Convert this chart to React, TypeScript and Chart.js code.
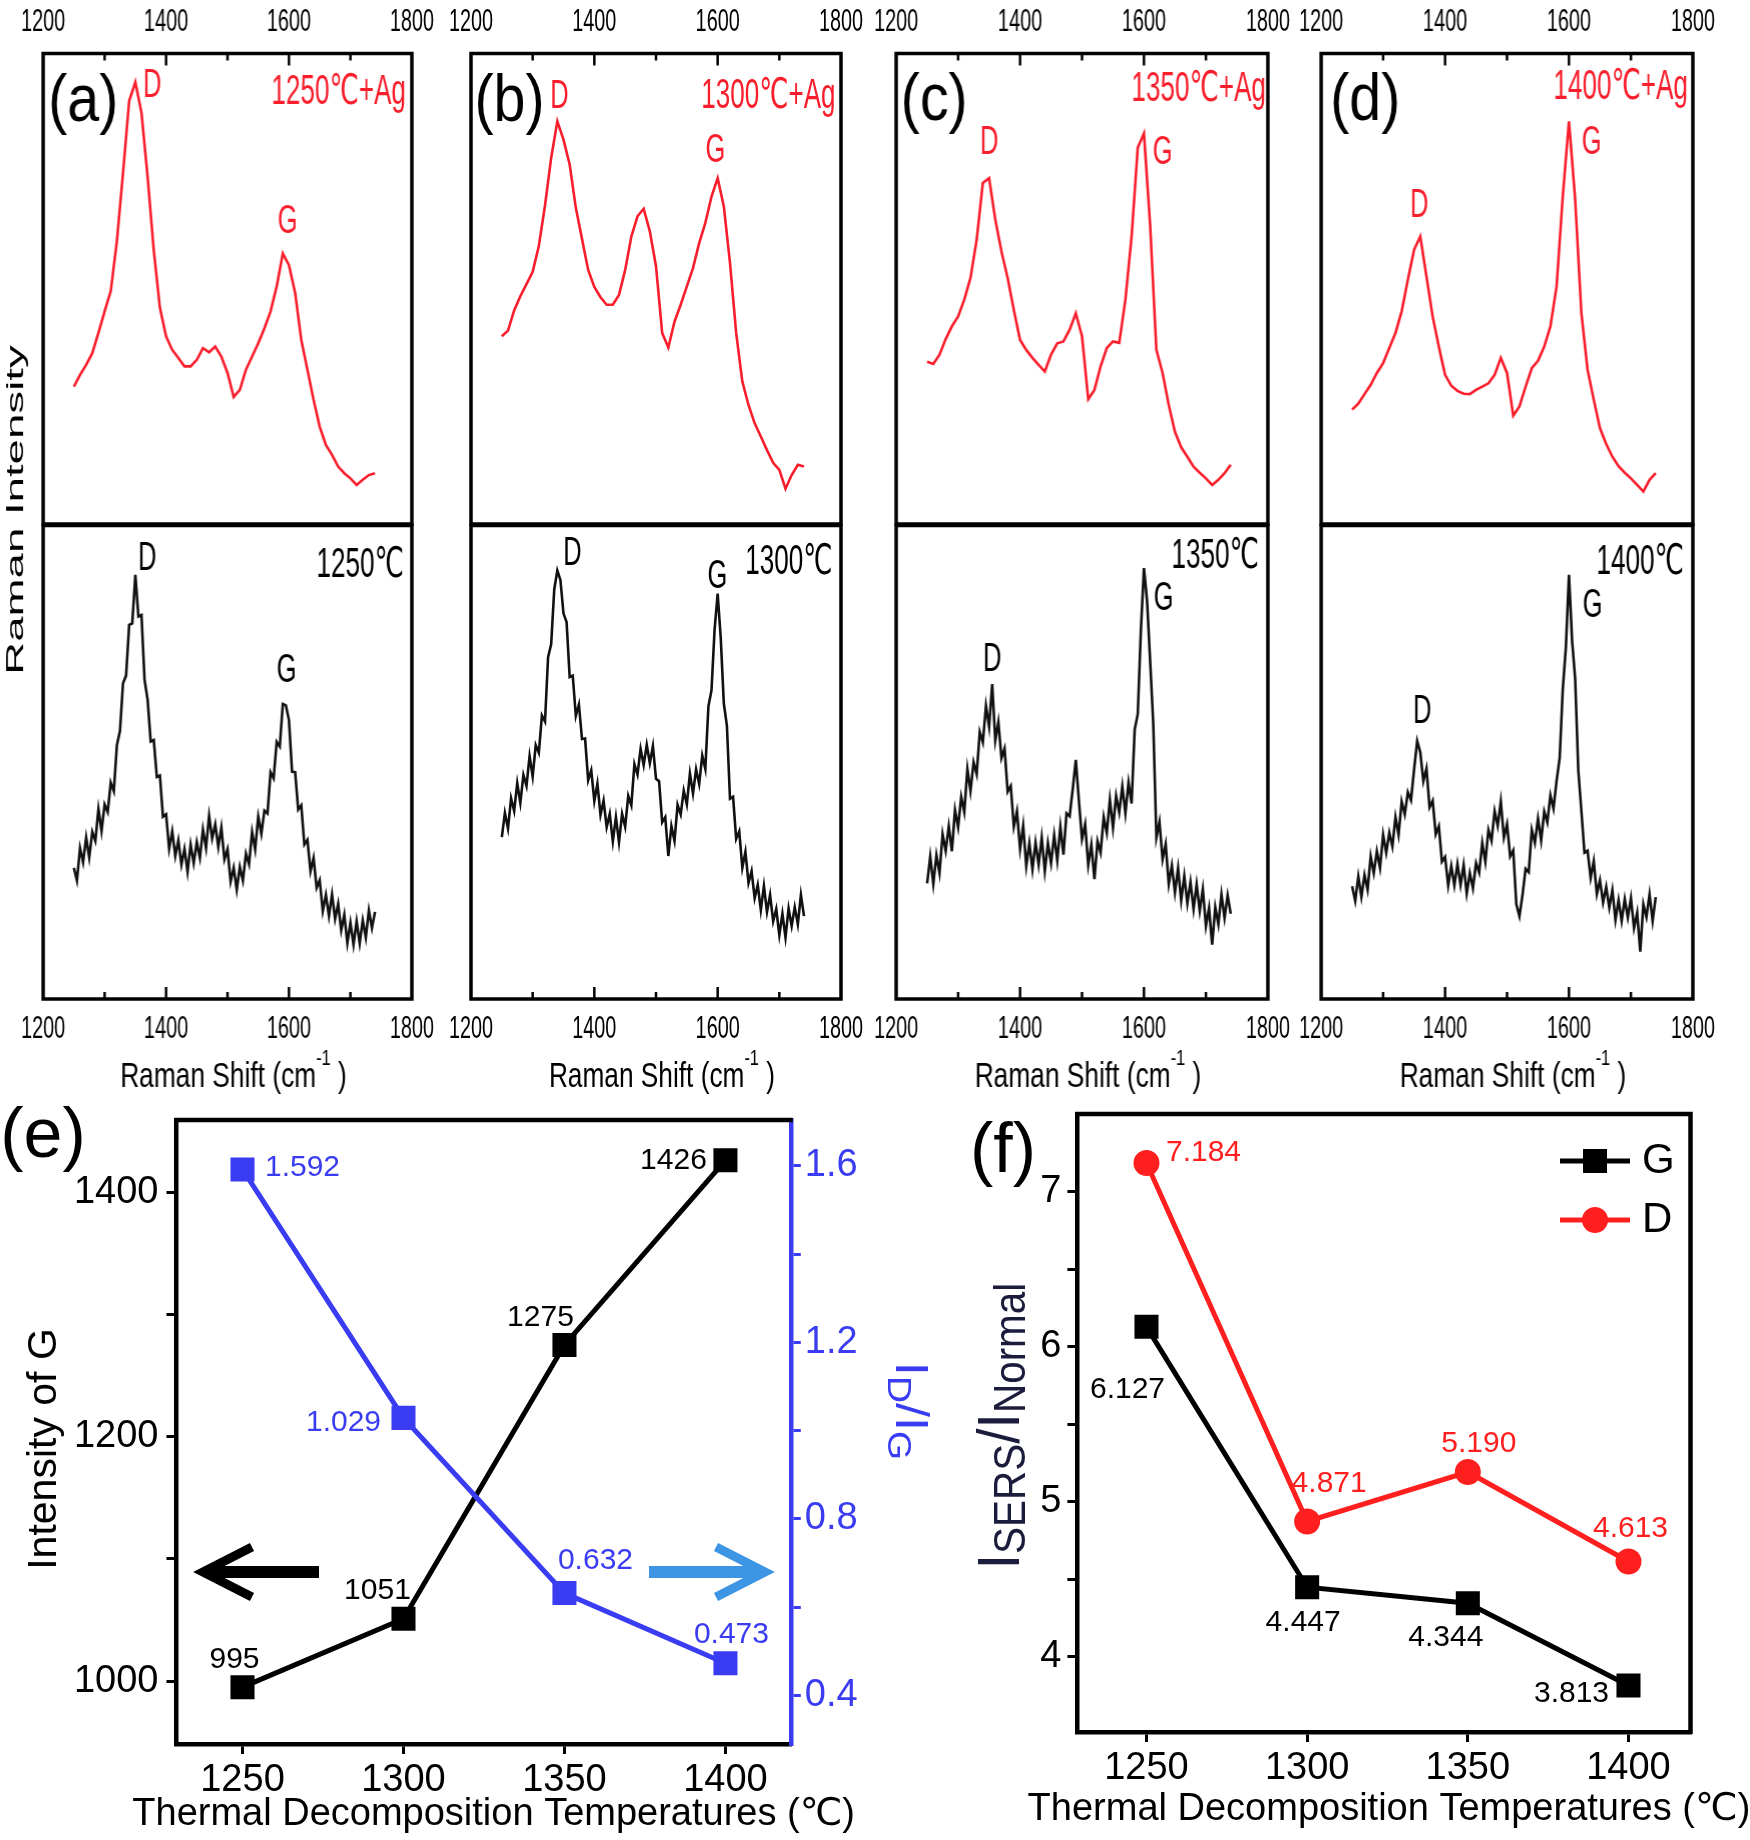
import React, { useEffect, useRef } from "react";
import { Chart, registerables } from "chart.js";
Chart.register(...registerables);

// ================= DATA =================
const RED_SHIFT = [1250,1260,1270,1280,1290,1300,1310,1320,1330,1340,1350,1360,1370,1380,1390,1400,1410,1420,1430,1440,1450,1460,1470,1480,1490,1500,1510,1520,1530,1540,1550,1560,1570,1580,1590,1600,1610,1620,1630,1640,1650,1660,1670,1680,1690,1700,1710,1720,1730,1740];
const BLACK_SHIFT = [1250,1255,1260,1265,1270,1275,1280,1285,1290,1295,1300,1305,1310,1315,1320,1325,1330,1335,1340,1345,1350,1355,1360,1365,1370,1375,1380,1385,1390,1395,1400,1405,1410,1415,1420,1425,1430,1435,1440,1445,1450,1455,1460,1465,1470,1475,1480,1485,1490,1495,1500,1505,1510,1515,1520,1525,1530,1535,1540,1545,1550,1555,1560,1565,1570,1575,1580,1585,1590,1595,1600,1605,1610,1615,1620,1625,1630,1635,1640,1645,1650,1655,1660,1665,1670,1675,1680,1685,1690,1695,1700,1705,1710,1715,1720,1725,1730,1735,1740];

// SERS (+Ag) spectra, relative intensity (0-100 of sub-panel)
const RED_A = [29.2,31.7,33.8,36.3,40.6,45.2,49.5,60.1,74.6,89.9,93.9,87.4,73.8,58.2,46.0,39.9,37.0,35.3,33.5,33.5,34.9,37.4,36.5,37.7,35.6,32.1,27.0,28.5,32.8,35.6,38.4,41.6,45.2,50.5,57.5,55.0,49.1,39.1,32.8,26.4,20.7,16.8,14.7,12.2,10.8,9.7,8.3,9.4,10.4,10.8];
const RED_B = [39.9,41.1,45.4,48.4,51.0,53.6,59.1,67.7,77.8,85.6,81.7,76.4,67.2,60.6,54.0,50.4,48.2,46.6,46.6,48.7,54.0,61.1,65.4,67.0,62.2,54.8,40.6,37.5,43.0,46.6,50.5,54.4,59.7,64.0,69.6,73.5,67.5,55.5,40.6,30.3,25.3,21.4,18.6,15.7,13.0,11.5,7.5,10.4,12.6,12.2];
const RED_C = [34.5,34.0,36.0,39.3,42.0,44.1,47.7,52.3,60.4,72.5,73.5,64.7,57.9,52.3,45.5,39.1,37.0,35.3,33.8,32.4,36.0,38.4,38.8,41.3,44.8,39.9,26.5,28.5,33.5,37.4,38.8,38.5,47.7,61.1,80.0,83.0,63.3,37.0,32.1,25.3,19.6,16.3,14.3,12.2,10.9,9.7,8.3,9.4,10.8,12.6];
const RED_D = [24.3,25.6,27.6,29.6,32.1,34.2,37.4,40.6,45.2,51.9,58.3,61.1,52.6,44.1,37.7,31.7,29.4,28.3,27.7,27.6,28.5,29.2,29.9,31.7,35.3,32.1,23.0,25.0,29.2,33.1,34.7,37.7,42.0,50.5,69.6,85.6,68.9,44.8,32.8,26.4,20.4,17.0,14.3,12.3,10.9,9.7,8.3,6.9,9.4,10.8];

// Normal spectra (noisy)
const BLACK_A = [27.7,25.0,31.9,28.9,34.1,29.9,35.3,33.4,40.1,35.5,41.1,39.5,45.7,43.9,53.6,56.6,66.7,68.3,79.0,79.3,89.6,80.8,81.1,67.4,63.2,54.4,54.7,46.9,47.2,38.5,39.0,31.7,35.4,30.2,33.5,28.4,31.7,26.9,32.6,28.7,33.1,29.8,35.8,31.9,38.7,33.9,36.9,32.1,36.2,29.5,31.6,24.8,27.7,23.1,27.9,25.0,30.7,28.5,35.3,31.6,38.5,34.9,39.8,39.2,47.9,46.6,54.3,53.3,62.3,62.0,58.9,48.0,47.9,40.0,40.9,32.6,33.6,27.0,29.8,23.5,25.1,18.6,22.0,17.5,22.1,16.9,20.1,14.5,17.8,11.8,16.1,11.5,16.4,11.8,16.6,13.0,18.7,15.0,18.4];
const BLACK_B = [34.2,39.3,36.0,42.4,39.7,45.6,41.4,47.3,45.0,51.3,47.0,53.6,52.0,59.9,58.6,72.2,74.9,86.5,90.5,88.5,81.4,79.6,68.0,68.3,59.8,62.2,54.9,55.0,46.2,48.3,41.8,45.5,38.9,41.9,36.3,39.1,33.3,38.4,33.1,39.1,36.4,42.9,40.9,49.6,47.4,52.8,49.4,53.7,49.8,53.4,46.5,46.0,37.3,38.4,30.2,36.5,33.4,41.0,39.0,44.0,41.1,47.6,43.4,48.5,45.4,51.4,48.6,61.8,65.2,78.0,85.6,76.2,62.4,57.7,42.3,42.7,33.8,35.4,27.7,31.1,24.5,27.0,21.3,24.1,18.8,23.9,18.4,22.0,16.4,19.0,13.5,18.0,13.0,19.1,15.4,19.4,15.8,22.0,17.5];
const BLACK_C = [24.4,30.1,24.3,30.4,26.6,34.8,31.3,36.5,31.2,39.9,36.3,42.7,39.5,48.6,43.9,50.0,47.5,56.4,54.2,61.9,57.5,66.5,54.6,58.5,50.9,52.9,43.8,45.0,36.4,39.6,31.7,36.6,28.1,32.9,27.4,33.0,28.4,34.1,27.0,32.9,28.7,34.6,29.3,36.4,30.5,39.2,38.6,44.3,50.5,41.9,33.8,36.9,28.3,32.6,25.3,33.3,30.9,38.4,35.1,42.1,36.2,42.9,39.4,44.9,39.2,45.7,41.3,56.9,60.2,77.8,91.0,84.0,71.2,58.0,34.1,37.4,29.5,32.7,24.3,28.2,22.5,27.6,20.8,26.0,20.2,24.7,19.0,24.2,18.6,23.2,15.4,19.2,11.5,19.4,15.8,22.1,17.1,21.9,18.0];
const BLACK_D = [23.8,20.7,25.9,21.6,26.2,23.1,30.1,26.6,31.2,27.7,34.7,30.9,35.1,32.2,38.4,34.7,41.7,39.0,43.7,42.0,48.5,54.5,52.1,46.0,48.7,40.5,41.9,34.8,36.5,29.0,30.0,24.0,28.1,24.0,28.5,24.1,28.3,22.3,26.6,23.4,28.7,26.7,33.0,29.0,35.7,33.4,39.7,36.6,41.7,34.1,36.9,30.1,31.4,20.0,17.5,22.0,27.5,26.8,35.7,33.0,38.1,33.5,39.6,37.3,43.0,40.2,46.1,50.9,65.4,74.2,89.6,75.7,67.5,48.3,39.7,30.9,31.3,25.6,29.1,22.2,25.1,20.4,23.7,19.3,23.0,16.7,20.9,16.5,21.1,17.2,21.3,15.0,18.2,10.0,20.0,17.3,22.1,16.5,21.5];

const SPEC_X_LABELS = [1200, 1400, 1600, 1800];
const SPEC_X_TICKS = [1300, 1400, 1500, 1600, 1700];

const TEMPS = [1250, 1300, 1350, 1400];
const INTENSITY_G = [995, 1051, 1275, 1426];
const RATIO_DG = [1.592, 1.029, 0.632, 0.473];
const ENH_G = [6.127, 4.447, 4.344, 3.813];
const ENH_D = [7.184, 4.871, 5.19, 4.613];
const INTENSITY_TICKS = [1000, 1100, 1200, 1300, 1400];
const INTENSITY_LABELS = [1000, 1200, 1400];
const RATIO_TICKS = [0.4, 0.6, 0.8, 1.0, 1.2, 1.4, 1.6];
const RATIO_LABELS = [0.4, 0.8, 1.2, 1.6];
const ENH_TICKS = [4, 4.5, 5, 5.5, 6, 6.5, 7];
const ENH_LABELS = [4, 5, 6, 7];

// ================= STYLE / LAYOUT =================
const SANS = "'Liberation Sans', Arial, 'DejaVu Sans', 'Noto Sans CJK SC', sans-serif";
const RED = "#f81e2c";
const INK = "#111111";
const BLUE = "#3a3cf2";
const ARROW_BLUE = "#3d95e4";
const F_RED = "#ff1f1f";
const NAVY = "#1b1b3c";

const PANEL_BOX = [
  { left: 43, right: 411.5 },
  { left: 470.5, right: 840.5 },
  { left: 896, right: 1267.5 },
  { left: 1321, right: 1692.5 },
];
const SUB_TOP = { top: 53.5, bottom: 524 };
const SUB_BOTTOM = { top: 525.5, bottom: 999 };
const SPEC_H = 1100;
const SPEC_MARGIN = 70;

type Note = { text: string; x: number; y: number; kind: "letter" | "peak" | "temp" };
const TOP_NOTES: Note[][] = [
  [ { text: "(a)", x: 83, y: 103, kind: "letter" }, { text: "D", x: 152, y: 86, kind: "peak" }, { text: "1250℃+Ag", x: 405, y: 92.5, kind: "temp" }, { text: "G", x: 287, y: 222, kind: "peak" } ],
  [ { text: "(b)", x: 509, y: 103, kind: "letter" }, { text: "D", x: 559, y: 97, kind: "peak" }, { text: "1300℃+Ag", x: 835, y: 96, kind: "temp" }, { text: "G", x: 715, y: 151, kind: "peak" } ],
  [ { text: "(c)", x: 934, y: 102, kind: "letter" }, { text: "D", x: 989, y: 143, kind: "peak" }, { text: "1350℃+Ag", x: 1265, y: 89, kind: "temp" }, { text: "G", x: 1162, y: 153, kind: "peak" } ],
  [ { text: "(d)", x: 1365, y: 102, kind: "letter" }, { text: "D", x: 1419, y: 206, kind: "peak" }, { text: "1400℃+Ag", x: 1687, y: 87, kind: "temp" }, { text: "G", x: 1591, y: 143, kind: "peak" } ],
];
const BOTTOM_NOTES: Note[][] = [
  [ { text: "D", x: 147, y: 559, kind: "peak" }, { text: "1250℃", x: 403, y: 565, kind: "temp" }, { text: "G", x: 286, y: 671, kind: "peak" } ],
  [ { text: "D", x: 572, y: 554, kind: "peak" }, { text: "1300℃", x: 832, y: 562, kind: "temp" }, { text: "G", x: 717, y: 577, kind: "peak" } ],
  [ { text: "D", x: 992, y: 660, kind: "peak" }, { text: "1350℃", x: 1258, y: 556, kind: "temp" }, { text: "G", x: 1163, y: 599, kind: "peak" } ],
  [ { text: "D", x: 1422, y: 712, kind: "peak" }, { text: "1400℃", x: 1683, y: 562, kind: "temp" }, { text: "G", x: 1592, y: 606, kind: "peak" } ],
];
const NOTE_STYLE: any = {
  letter: { size: 66, sx: 0.87, align: "center" },
  peak: { size: 41, sx: 0.62, align: "center" },
  temp: { size: 42, sx: 0.62, align: "right" },
};

// label offsets (px) from data points
const E_G_LABEL_OFF = [[-8, -27], [-26, -28], [-24, -27], [-52, 0]];
const E_R_LABEL_OFF = [[60, -2], [-60, 5], [31, -32], [6, -29]];
const F_G_LABEL_OFF = [[-19, 63], [-4, 36], [-22, 35], [-57, 8]];
const F_D_LABEL_OFF = [[57, -10], [22, -38], [11, -28], [2, -33]];

// ================= HELPERS =================
function drawText(ctx: any, text: string, x: number, y: number, o: any) {
  ctx.save();
  ctx.translate(x, y);
  if (o.rotate) ctx.rotate(o.rotate);
  ctx.scale(o.sx ?? 1, o.sy ?? 1);
  ctx.font = `${o.weight ?? "normal"} ${o.size}px ${SANS}`;
  ctx.fillStyle = o.color ?? "#000";
  ctx.textAlign = o.align ?? "center";
  ctx.textBaseline = o.baseline ?? "middle";
  ctx.fillText(text, 0, 0);
  ctx.restore();
}

function drawRich(ctx: any, segs: { t: string; size: number; dy?: number }[], x: number, y: number, o: any) {
  ctx.save();
  ctx.translate(x, y);
  if (o.rotate) ctx.rotate(o.rotate);
  ctx.scale(o.sx ?? 1, o.sy ?? 1);
  ctx.fillStyle = o.color ?? "#000";
  ctx.textBaseline = "alphabetic";
  ctx.textAlign = "left";
  let total = 0;
  const widths = segs.map((s) => {
    ctx.font = `${s.size}px ${SANS}`;
    const w = ctx.measureText(s.t).width;
    total += w;
    return w;
  });
  let cx = o.align === "left" ? 0 : o.align === "right" ? -total : -total / 2;
  segs.forEach((s, i) => {
    ctx.font = `${s.size}px ${SANS}`;
    ctx.fillText(s.t, cx, s.dy ?? 0);
    cx += widths[i];
  });
  ctx.restore();
}

function ChartBox({ left, top, width, height, make }: any) {
  const ref = useRef<HTMLCanvasElement>(null);
  useEffect(() => {
    const chart = new Chart(ref.current as HTMLCanvasElement, make());
    return () => chart.destroy();
  }, []);
  return (
    <canvas
      ref={ref}
      width={width}
      height={height}
      style={{ position: "absolute", left, top, width, height }}
    />
  );
}

const baseOptions = {
  animation: false,
  responsive: false,
  maintainAspectRatio: false,
  devicePixelRatio: 1,
  events: [],
};

// ================= SPECTRA =================
function makeSpectrum(i: number, part: "top" | "bottom") {
  const box = PANEL_BOX[i];
  const sub = part === "top" ? SUB_TOP : SUB_BOTTOM;
  const canvasLeft = box.left - SPEC_MARGIN;
  const xs = part === "top" ? RED_SHIFT : BLACK_SHIFT;
  const ys = part === "top" ? [RED_A, RED_B, RED_C, RED_D][i] : [BLACK_A, BLACK_B, BLACK_C, BLACK_D][i];
  const notes = part === "top" ? TOP_NOTES[i] : BOTTOM_NOTES[i];
  const decor = {
    id: "specDecor",
    afterDraw(chart: any) {
      const { ctx, chartArea: a } = chart;
      const x = chart.scales.x;
      ctx.save();
      ctx.strokeStyle = "#000";
      ctx.lineWidth = 3.5;
      ctx.strokeRect(a.left, a.top, a.right - a.left, a.bottom - a.top);
      ctx.lineWidth = 2.5;
      const y0 = part === "top" ? a.top : a.bottom;
      const dir = part === "top" ? 1 : -1;
      for (const v of SPEC_X_TICKS) {
        const px = x.getPixelForValue(v);
        const len = SPEC_X_LABELS.includes(v) ? 12 : 7;
        ctx.beginPath();
        ctx.moveTo(px, y0);
        ctx.lineTo(px, y0 + dir * len);
        ctx.stroke();
      }
      ctx.restore();
      const labelY = part === "top" ? 22 : 1029;
      for (const v of SPEC_X_LABELS) {
        drawText(ctx, String(v), x.getPixelForValue(v), labelY, { size: 32, sx: 0.62, color: "#000" });
      }
      for (const n of notes) {
        const st = NOTE_STYLE[n.kind];
        const color = n.kind === "letter" ? "#000" : part === "top" ? RED : "#000";
        drawText(ctx, n.text, n.x - canvasLeft, n.y, { size: st.size, sx: st.sx, align: st.align, color });
      }
      if (part === "bottom") {
        const cx = (a.left + a.right) / 2 + 6;
        drawRich(ctx, [
          { t: "Raman Shift (cm", size: 35 },
          { t: "-1", size: 22, dy: -22 },
          { t: " )", size: 35 },
        ], cx, 1087, { sx: 0.75, color: "#000" });
      }
      if (part === "top" && i === 0) {
        drawText(ctx, "Raman Intensity", 16 - canvasLeft, 510, { size: 24, sx: 1.9, rotate: -Math.PI / 2, color: "#000" });
      }
    },
  };
  return {
    type: "line",
    data: {
      datasets: [
        {
          data: xs.map((v, k) => ({ x: v, y: ys[k] })),
          borderColor: part === "top" ? RED : INK,
          borderWidth: part === "top" ? 2.6 : 2.6,
          pointRadius: 0,
          tension: 0,
          fill: false,
        },
      ],
    },
    options: {
      ...baseOptions,
      layout: { padding: { left: SPEC_MARGIN, right: SPEC_MARGIN, top: sub.top, bottom: SPEC_H - sub.bottom } },
      plugins: { legend: { display: false }, tooltip: { enabled: false } },
      scales: {
        x: { type: "linear", min: 1200, max: 1800, display: false },
        y: { type: "linear", min: 0, max: 100, display: false },
      },
    },
    plugins: [decor],
  };
}

// ================= PANEL (e) =================
const E_CANVAS = { left: 0, top: 1080, width: 930, height: 760 };
const F_CANVAS = { left: 880, top: 1080, width: 870, height: 760 };

function axisCommon(color: string) {
  return {
    grid: { display: true, drawOnChartArea: false, drawTicks: true, tickLength: 10, lineWidth: 3, tickWidth: 3, tickColor: color, color },
    border: { display: true, color, width: 4.5 },
  };
}

function makeE() {
  const T = E_CANVAS.top;
  const decor = {
    id: "eDecor",
    afterDraw(chart: any) {
      const { ctx, chartArea: a } = chart;
      ctx.save();
      ctx.strokeStyle = "#000";
      ctx.lineWidth = 4.5;
      ctx.beginPath();
      ctx.moveTo(a.left - 2, a.top);
      ctx.lineTo(a.right + 2, a.top);
      ctx.stroke();
      // arrows
      ctx.lineCap = "butt";
      ctx.lineJoin = "miter";
      ctx.strokeStyle = "#000";
      ctx.lineWidth = 12;
      ctx.beginPath(); ctx.moveTo(210, 1572 - T); ctx.lineTo(319, 1572 - T); ctx.stroke();
      ctx.lineWidth = 9;
      ctx.beginPath(); ctx.moveTo(252, 1547 - T); ctx.lineTo(203, 1572 - T); ctx.lineTo(252, 1597 - T); ctx.stroke();
      ctx.strokeStyle = ARROW_BLUE;
      ctx.lineWidth = 12;
      ctx.beginPath(); ctx.moveTo(649, 1572 - T); ctx.lineTo(758, 1572 - T); ctx.stroke();
      ctx.lineWidth = 9;
      ctx.beginPath(); ctx.moveTo(716, 1547 - T); ctx.lineTo(765, 1572 - T); ctx.lineTo(716, 1597 - T); ctx.stroke();
      ctx.restore();
      // data labels
      const mR = chart.getDatasetMeta(0).data;
      const mG = chart.getDatasetMeta(1).data;
      INTENSITY_G.forEach((v, j) => {
        drawText(ctx, String(v), mG[j].x + E_G_LABEL_OFF[j][0], mG[j].y + E_G_LABEL_OFF[j][1], { size: 30, color: "#000" });
      });
      RATIO_DG.forEach((v, j) => {
        drawText(ctx, v.toFixed(3), mR[j].x + E_R_LABEL_OFF[j][0], mR[j].y + E_R_LABEL_OFF[j][1], { size: 30, color: BLUE });
      });
      drawText(ctx, "(e)", 43, 1138 - T, { size: 70, color: "#000" });
      drawText(ctx, "Intensity of G", 56, 1449 - T, { size: 41, rotate: -Math.PI / 2, baseline: "alphabetic", color: "#000" });
      drawRich(ctx, [
        { t: "I", size: 46 }, { t: "D", size: 34, dy: 8 }, { t: "/", size: 46 }, { t: "I", size: 46 }, { t: "G", size: 34, dy: 8 },
      ], 896, 1411 - T, { rotate: Math.PI / 2, sx: 1.1, color: BLUE });
      drawText(ctx, "Thermal Decomposition Temperatures (℃)", (a.left + a.right) / 2 + 10, 1815 - T, { size: 38, color: "#000" });
    },
  };
  return {
    type: "line",
    data: {
      datasets: [
        {
          data: TEMPS.map((t, j) => ({ x: t, y: RATIO_DG[j] })),
          yAxisID: "y2",
          borderColor: BLUE, backgroundColor: BLUE, pointBackgroundColor: BLUE, pointBorderColor: BLUE,
          borderWidth: 5, pointStyle: "rect", pointRadius: 17, pointBorderWidth: 0, tension: 0,
        },
        {
          data: TEMPS.map((t, j) => ({ x: t, y: INTENSITY_G[j] })),
          yAxisID: "y",
          borderColor: "#000", backgroundColor: "#000", pointBackgroundColor: "#000", pointBorderColor: "#000",
          borderWidth: 5, pointStyle: "rect", pointRadius: 17, pointBorderWidth: 0, tension: 0,
        },
      ],
    },
    options: {
      ...baseOptions,
      layout: { padding: { top: 40, left: 0, right: 0, bottom: 0 } },
      plugins: { legend: { display: false }, tooltip: { enabled: false } },
      scales: {
        x: {
          type: "linear", position: "bottom", min: 1229.5, max: 1420.3,
          afterBuildTicks: (s: any) => { s.ticks = TEMPS.map((v) => ({ value: v })); },
          afterFit: (s: any) => { s.height = 96; },
          ticks: { autoSkip: false, maxRotation: 0, padding: 4, color: "#000", font: { family: SANS, size: 38 }, callback: (v: any) => String(v) },
          ...axisCommon("#000"),
        },
        y: {
          type: "linear", position: "left", min: 948.5, max: 1459,
          afterBuildTicks: (s: any) => { s.ticks = INTENSITY_TICKS.map((v) => ({ value: v })); },
          afterFit: (s: any) => { s.width = 176.5; },
          ticks: { autoSkip: false, padding: 8, color: "#000", font: { family: SANS, size: 38 }, callback: (v: any) => (INTENSITY_LABELS.includes(v) ? String(v) : "") },
          ...axisCommon("#000"),
        },
        y2: {
          type: "linear", position: "right", min: 0.29, max: 1.704,
          afterBuildTicks: (s: any) => { s.ticks = RATIO_TICKS.map((v) => ({ value: v })); },
          afterFit: (s: any) => { s.width = E_CANVAS.width - 790.8; },
          ticks: { autoSkip: false, padding: 4, color: BLUE, font: { family: SANS, size: 38 }, callback: (v: any) => (RATIO_LABELS.some((l) => Math.abs(l - v) < 1e-9) ? Number(v).toFixed(1) : "") },
          ...axisCommon(BLUE),
        },
      },
    },
    plugins: [decor],
  };
}

// ================= PANEL (f) =================
function makeF() {
  const L = F_CANVAS.left;
  const T = F_CANVAS.top;
  const decor = {
    id: "fDecor",
    afterDraw(chart: any) {
      const { ctx, chartArea: a } = chart;
      ctx.save();
      ctx.strokeStyle = "#000";
      ctx.lineWidth = 4.5;
      ctx.beginPath();
      ctx.moveTo(a.left - 2, a.top);
      ctx.lineTo(a.right, a.top);
      ctx.lineTo(a.right, a.bottom + 2);
      ctx.stroke();
      // legend
      const lx0 = 1560 - L, lx1 = 1630 - L, mx = 1595 - L;
      ctx.lineWidth = 5;
      ctx.strokeStyle = "#000";
      ctx.beginPath(); ctx.moveTo(lx0, 1161 - T); ctx.lineTo(lx1, 1161 - T); ctx.stroke();
      ctx.fillStyle = "#000";
      ctx.fillRect(mx - 12, 1161 - T - 12, 24, 24);
      ctx.strokeStyle = F_RED;
      ctx.beginPath(); ctx.moveTo(lx0, 1220 - T); ctx.lineTo(lx1, 1220 - T); ctx.stroke();
      ctx.fillStyle = F_RED;
      ctx.beginPath(); ctx.arc(mx, 1220 - T, 13, 0, Math.PI * 2); ctx.fill();
      ctx.restore();
      drawText(ctx, "G", 1642 - L, 1161 - T, { size: 42, align: "left", color: "#000" });
      drawText(ctx, "D", 1642 - L, 1220 - T, { size: 42, align: "left", color: "#000" });
      // data labels
      const mD = chart.getDatasetMeta(0).data;
      const mG = chart.getDatasetMeta(1).data;
      ENH_G.forEach((v, j) => {
        drawText(ctx, v.toFixed(3), mG[j].x + F_G_LABEL_OFF[j][0], mG[j].y + F_G_LABEL_OFF[j][1], { size: 30, color: "#000" });
      });
      ENH_D.forEach((v, j) => {
        drawText(ctx, v.toFixed(3), mD[j].x + F_D_LABEL_OFF[j][0], mD[j].y + F_D_LABEL_OFF[j][1], { size: 30, color: F_RED });
      });
      drawText(ctx, "(f)", 1003 - L, 1153 - T, { size: 70, color: "#000" });
      drawRich(ctx, [
        { t: "I", size: 60 }, { t: "SERS", size: 44, dy: 6 }, { t: "/", size: 60 }, { t: "I", size: 60 }, { t: "Normal", size: 44, dy: 6 },
      ], 1019 - L, 1426 - T, { rotate: -Math.PI / 2, sx: 0.92, color: NAVY });
      drawText(ctx, "Thermal Decomposition Temperatures (℃)", (a.left + a.right) / 2 + 5, 1810 - T, { size: 38, color: "#000" });
    },
  };
  return {
    type: "line",
    data: {
      datasets: [
        {
          data: TEMPS.map((t, j) => ({ x: t, y: ENH_D[j] })),
          borderColor: F_RED, backgroundColor: F_RED, pointBackgroundColor: F_RED, pointBorderColor: F_RED,
          borderWidth: 5, pointStyle: "circle", pointRadius: 13, pointBorderWidth: 0, tension: 0,
        },
        {
          data: TEMPS.map((t, j) => ({ x: t, y: ENH_G[j] })),
          borderColor: "#000", backgroundColor: "#000", pointBackgroundColor: "#000", pointBorderColor: "#000",
          borderWidth: 5, pointStyle: "rect", pointRadius: 17, pointBorderWidth: 0, tension: 0,
        },
      ],
    },
    options: {
      ...baseOptions,
      layout: { padding: { top: 34, left: 0, right: 59.5, bottom: 0 } },
      plugins: { legend: { display: false }, tooltip: { enabled: false } },
      scales: {
        x: {
          type: "linear", position: "bottom", min: 1228.5, max: 1419.3,
          afterBuildTicks: (s: any) => { s.ticks = TEMPS.map((v) => ({ value: v })); },
          afterFit: (s: any) => { s.height = 108; },
          ticks: { autoSkip: false, maxRotation: 0, padding: 4, color: "#000", font: { family: SANS, size: 38 }, callback: (v: any) => String(v) },
          ...axisCommon("#000"),
        },
        y: {
          type: "linear", position: "left", min: 3.513, max: 7.5,
          afterBuildTicks: (s: any) => { s.ticks = ENH_TICKS.map((v) => ({ value: v })); },
          afterFit: (s: any) => { s.width = 197.4; },
          ticks: { autoSkip: false, padding: 6, color: "#000", font: { family: SANS, size: 38 }, callback: (v: any) => (ENH_LABELS.includes(v) ? String(v) : "") },
          ...axisCommon("#000"),
        },
      },
    },
    plugins: [decor],
  };
}

// ================= APP =================
export default function App() {
  const specs: any[] = [];
  PANEL_BOX.forEach((box, i) => {
    (["top", "bottom"] as const).forEach((part) => {
      specs.push(
        <ChartBox
          key={`${i}-${part}`}
          left={box.left - SPEC_MARGIN}
          top={0}
          width={box.right - box.left + 2 * SPEC_MARGIN}
          height={SPEC_H}
          make={() => makeSpectrum(i, part)}
        />
      );
    });
  });
  return (
    <div style={{ position: "absolute", left: 0, top: 0, width: 1750, height: 1840, background: "#fff", overflow: "hidden" }}>
      {specs}
      <ChartBox left={E_CANVAS.left} top={E_CANVAS.top} width={E_CANVAS.width} height={E_CANVAS.height} make={makeE} />
      <ChartBox left={F_CANVAS.left} top={F_CANVAS.top} width={F_CANVAS.width} height={F_CANVAS.height} make={makeF} />
    </div>
  );
}
